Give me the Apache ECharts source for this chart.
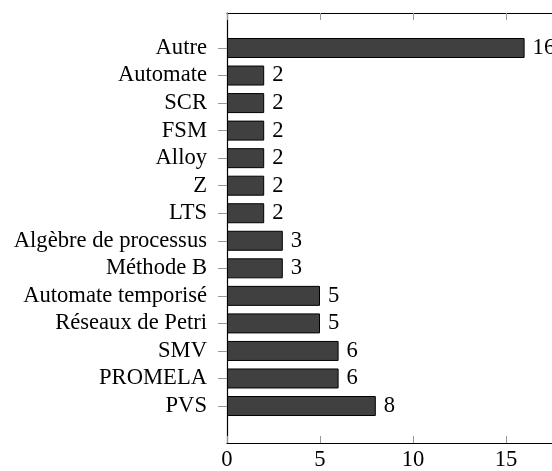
<!DOCTYPE html>
<html><head><meta charset="utf-8">
<script src="https://cdn.jsdelivr.net/npm/echarts@6/dist/echarts.min.js"></script>
<style>html,body{margin:0;padding:0;background:#fff}#c{width:552px;height:471px}</style>
</head><body><div id="c"></div>
<script>
const categories = ['Autre','Automate','SCR','FSM','Alloy','Z','LTS','Algèbre de processus','Méthode B','Automate temporisé','Réseaux de Petri','SMV','PROMELA','PVS'];
const values = [16,2,2,2,2,2,2,3,3,5,5,6,6,8];
const xTicks = [0,5,10,15];

const FONT = 'Liberation Serif';
const FS = 22.6;
const XMAX = 18;
const PX = 18.6;
const chart = echarts.init(document.getElementById('c'), null, {renderer:'canvas'});
const band = 27.54;
chart.setOption({
  animation:false,
  textStyle:{fontFamily:FONT},
  grid:[
    {left:227, width:PX*XMAX, top:48-band/2, height:band*categories.length, outerBoundsMode:'none', containLabel:false},
    {left:227, width:PX*XMAX, top:13, height:430, outerBoundsMode:'none', containLabel:false}
  ],
  xAxis:[
    {gridIndex:0, type:'value', min:0, max:XMAX, interval:5, show:false},
    {gridIndex:1, type:'value', min:0, max:XMAX, interval:5, position:'bottom',
      axisLine:{show:true, onZero:false, lineStyle:{color:'#000', width:1.2}},
      axisTick:{show:true, inside:true, length:7, lineStyle:{color:'#999'}, customValues:xTicks},
      axisLabel:{color:'#000', fontSize:FS, fontFamily:FONT, margin:6, customValues:xTicks},
      splitLine:{show:false}},
    {gridIndex:1, type:'value', min:0, max:XMAX, interval:5, position:'top',
      axisLine:{show:true, onZero:false, lineStyle:{color:'#000', width:1.2}},
      axisTick:{show:true, inside:true, length:7, lineStyle:{color:'#999'}, customValues:xTicks},
      axisLabel:{show:false}, splitLine:{show:false}}
  ],
  yAxis:[
    {gridIndex:0, type:'category', data:categories, inverse:true,
      axisLine:{show:false},
      axisTick:{show:true, alignWithLabel:true, interval:0, length:9, lineStyle:{color:'#999'}},
      axisLabel:{color:'#000', fontSize:FS, fontFamily:FONT, margin:20, interval:0},
      splitLine:{show:false}},
    {gridIndex:1, type:'value', min:0, max:1,
      axisLine:{show:true, onZero:false, lineStyle:{color:'#000', width:1.2}},
      axisTick:{show:false}, axisLabel:{show:false}, splitLine:{show:false}}
  ],
  series:[{
    type:'bar', xAxisIndex:0, yAxisIndex:0, data:values, barWidth:20,
    itemStyle:{color:'#404040', borderColor:'#000', borderWidth:1},
    label:{show:true, position:'right', distance:8, color:'#000', fontSize:FS, fontFamily:FONT}
  }]
});
</script></body></html>
